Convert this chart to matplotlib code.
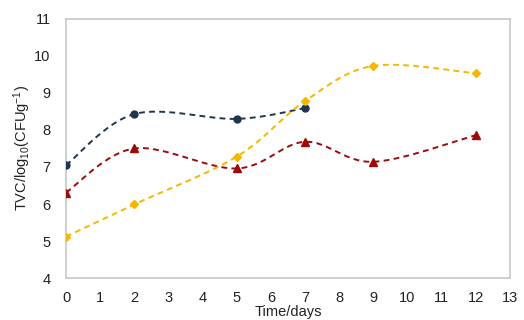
import numpy as np
import matplotlib
matplotlib.use("Agg")
import matplotlib.pyplot as plt

plt.rcParams['font.family'] = ['Liberation Sans', 'DejaVu Sans']
plt.rcParams['mathtext.default'] = 'regular'

# Storage time (days) and total viable counts
days_a = [0, 2, 5, 7]
tvc_a = [7.05, 8.43, 8.30, 8.59]

days_b = [0, 2, 5, 7, 9, 12]
tvc_b = [6.31, 7.50, 6.96, 7.68, 7.14, 7.86]

days_c = [0, 2, 5, 7, 9, 12]
tvc_c = [5.12, 5.99, 7.28, 8.78, 9.73, 9.53]

x_ticks = list(range(0, 14))
y_ticks = list(range(4, 12))

colors = ['#1f3550', '#9b0b0b', '#f5b800']
markers = ['o', '^', 'D']
msizes = [5, 6, 4.5]


def smooth(xs, ys, n=30):
    """Cubic Bezier smoothing through points (Catmull-Rom style control points)."""
    p = np.column_stack([xs, ys]).astype(float)
    ext = np.vstack([p[0], p, p[-1]])
    out = []
    t = np.linspace(0, 1, n)[:, None]
    for i in range(1, len(ext) - 2):
        p0, p1, p2, p3 = ext[i - 1], ext[i], ext[i + 1], ext[i + 2]
        c1 = p1 + (p2 - p0) / 6.0
        c2 = p2 - (p3 - p1) / 6.0
        seg = ((1 - t) ** 3) * p1 + 3 * ((1 - t) ** 2) * t * c1 + 3 * (1 - t) * t ** 2 * c2 + t ** 3 * p2
        out.append(seg if i == 1 else seg[1:])
    s = np.vstack(out)
    return s[:, 0], s[:, 1]


fig = plt.figure(figsize=(5.24, 3.2), dpi=100)
ax = fig.add_axes([0.126, 0.131, 0.847, 0.81])

for (xs, ys), c, m, ms in zip([(days_a, tvc_a), (days_b, tvc_b), (days_c, tvc_c)], colors, markers, msizes):
    sx, sy = smooth(xs, ys)
    ax.plot(sx, sy, color=c, lw=1.4, ls=(0, (3.0, 2.2)))
    ax.plot(xs, ys, ls='none', marker=m, color=c, ms=ms, zorder=3)

ax.set_xlim(0, 13)
ax.set_ylim(4, 11)
ax.set_xticks(x_ticks)
ax.set_yticks(y_ticks)
ax.tick_params(axis='y', length=0, labelsize=10.5, colors='#222222', pad=11)
ax.tick_params(axis='x', length=0, labelsize=10.5, colors='#222222', pad=9)
for sp in ax.spines.values():
    sp.set_color('#c8c8c8')
    sp.set_linewidth(1.2)
ax.set_xlabel('Time/days', fontsize=10.5, labelpad=0.5, color='#222222')
ax.set_ylabel('TVC/log$_{10}$(CFUg$^{-1}$)', fontsize=10.5, labelpad=1, color='#222222')

fig.savefig('out.png', dpi=100)
